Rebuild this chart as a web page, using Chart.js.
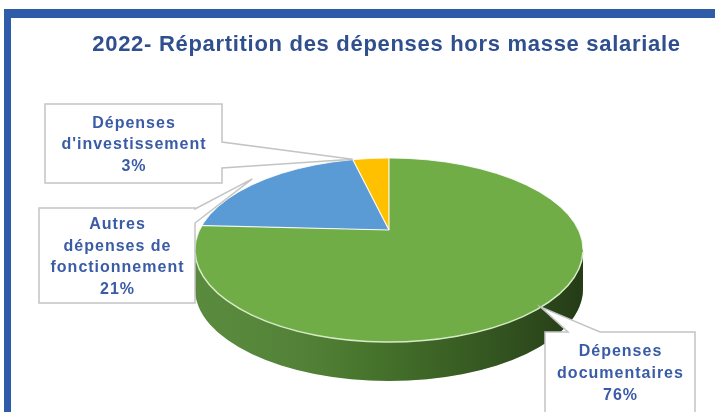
<!DOCTYPE html>
<html>
<head>
<meta charset="utf-8">
<script src="https://cdn.jsdelivr.net/npm/chart.js@4.4.1/dist/chart.umd.min.js"></script>
<style>
html, body { margin: 0; padding: 0; background: #ffffff; }
#wrap { position: relative; width: 715px; height: 412px; overflow: hidden; }
#chart { position: absolute; left: 0; top: 0; }
#frame { position: absolute; left: 4px; top: 9px; right: 0; bottom: 0;
         border-top: 9px solid #2f5ca9; border-left: 7px solid #2f5ca9; pointer-events: none; }
</style>
</head>
<body>
<div id="wrap">
  <canvas id="chart" width="715" height="412"></canvas>
  <div id="frame"></div>
</div>
<script>
// data
var categories = ['Dépenses documentaires', 'Autres dépenses de fonctionnement', "Dépenses d'investissement"];
var values = [76, 21, 3];
var labelLines = [
    ['Dépenses', 'documentaires'],
    ['Autres', 'dépenses de', 'fonctionnement'],
    ['Dépenses', "d'investissement"]
];
var titleText = '2022- Répartition des dépenses hors masse salariale';

// styles
var topColors = ['#70ad47', '#5b9bd5', '#ffc000'];
var sideColors = ['#508432', '#3d6f9e', '#b68900'];
var labelColor = '#3a5ba6';

// 3d look: face ellipse + apex of the wedges (perspective)
var PIE = { cx: 389, cy: 250, rx: 194, ry: 92, apexY: 230, depth: 39 };
var kUp = PIE.apexY - (PIE.cy - PIE.ry);
var kDown = PIE.cy + PIE.ry - PIE.apexY;

// callout boxes (layout), tip is taken on the slice at frac of its angle
var callouts = [
    { index: 0, box: { x: 545, y: 332, w: 150, h: 80 }, side: 'top', base: [568, 600], frac: 0.48, r: 1.04, open: true },
    { index: 1, box: { x: 39, y: 208, w: 156, h: 95 }, side: 'right', base: [209, 223], frac: 0.55, r: 1.0 },
    { index: 2, box: { x: 45, y: 104, w: 177, h: 79 }, side: 'right', base: [142, 168], frac: 0.0, r: 1.0 }
];

function drawWedge(ctx, el, lower, fill) {
    var k = lower ? kDown : kUp;
    ctx.save();
    ctx.translate(PIE.cx, PIE.apexY);
    ctx.scale(PIE.rx * 3 / el.outerRadius, k * 3 / el.outerRadius);
    ctx.translate(-el.x, -el.y);
    ctx.beginPath();
    ctx.moveTo(el.x, el.y);
    ctx.arc(el.x, el.y, el.outerRadius, el.startAngle, el.endAngle);
    ctx.closePath();
    ctx.restore();
    ctx.fillStyle = fill;
    ctx.fill();
}

function rimPoint(a, r) {
    var k = Math.sin(a) < 0 ? kUp : kDown;
    return [PIE.cx + Math.cos(a) * PIE.rx * r, PIE.apexY + Math.sin(a) * k * r];
}

function sideBand(ctx) {
    ctx.beginPath();
    ctx.ellipse(PIE.cx, PIE.cy, PIE.rx, PIE.ry, 0, 0, Math.PI);
    ctx.lineTo(PIE.cx - PIE.rx, PIE.cy + PIE.depth);
    ctx.ellipse(PIE.cx, PIE.cy + PIE.depth, PIE.rx, PIE.ry, 0, Math.PI, 0, true);
    ctx.closePath();
}

var pie3d = {
    id: 'pie3d',
    beforeDraw(chart) {
        chart.ctx.letterSpacing = '0.7px';
    },
    beforeDatasetsDraw(chart) {
        chart.ctx.letterSpacing = '0px';
    },
    beforeDatasetDraw(chart, args) {
        var ctx = chart.ctx;
        var arcs = chart.getDatasetMeta(args.index).data;
        var W = chart.width, H = chart.height;

        // side
        arcs.forEach(function (el, i) {
            ctx.save();
            sideBand(ctx);
            ctx.clip();
            drawWedge(ctx, el, true, sideColors[i]);
            ctx.restore();
        });
        ctx.save();
        sideBand(ctx);
        ctx.clip();
        var g = ctx.createLinearGradient(PIE.cx - PIE.rx, 0, PIE.cx + PIE.rx, 0);
        g.addColorStop(0, 'rgba(255,255,255,0.05)');
        g.addColorStop(0.45, 'rgba(0,0,0,0.12)');
        g.addColorStop(0.8, 'rgba(0,0,0,0.38)');
        g.addColorStop(1, 'rgba(0,0,0,0.55)');
        ctx.fillStyle = g;
        ctx.fillRect(0, 0, W, H);
        ctx.restore();

        // top face
        [false, true].forEach(function (lower) {
            arcs.forEach(function (el) {
                ctx.save();
                ctx.beginPath();
                if (lower) ctx.rect(0, PIE.apexY, W, H - PIE.apexY);
                else ctx.rect(0, 0, W, PIE.apexY);
                ctx.clip();
                ctx.beginPath();
                ctx.ellipse(PIE.cx, PIE.cy, PIE.rx, PIE.ry, 0, 0, Math.PI * 2);
                ctx.clip();
                drawWedge(ctx, el, lower, el.options.backgroundColor);
                ctx.restore();
            });
        });

        // slice edges
        ctx.save();
        ctx.beginPath();
        ctx.ellipse(PIE.cx, PIE.cy, PIE.rx, PIE.ry, 0, 0, Math.PI * 2);
        ctx.clip();
        ctx.strokeStyle = 'rgba(255,255,255,0.9)';
        ctx.lineWidth = 1.2;
        arcs.forEach(function (el) {
            var p = rimPoint(el.startAngle, 3);
            ctx.beginPath();
            ctx.moveTo(PIE.cx, PIE.apexY);
            ctx.lineTo(p[0], p[1]);
            ctx.stroke();
        });
        ctx.restore();

        // rim highlight
        ctx.save();
        ctx.beginPath();
        ctx.ellipse(PIE.cx, PIE.cy, PIE.rx, PIE.ry, 0, 0.02, Math.PI - 0.02);
        ctx.strokeStyle = '#d6eac6';
        ctx.lineWidth = 1.5;
        ctx.stroke();
        ctx.beginPath();
        ctx.ellipse(PIE.cx, PIE.cy, PIE.rx, PIE.ry, 0, Math.PI, Math.PI * 2);
        ctx.strokeStyle = 'rgba(255,255,255,0.8)';
        ctx.lineWidth = 1;
        ctx.stroke();
        ctx.restore();
        return false;
    },
    afterDraw(chart) {
        var ctx = chart.ctx;
        var arcs = chart.getDatasetMeta(0).data;
        callouts.forEach(function (c) {
            var el = arcs[c.index];
            var a = el.startAngle + c.frac * (el.endAngle - el.startAngle);
            var tip = rimPoint(a, c.r);
            var b = c.box;
            var pts;
            if (c.side === 'right') {
                pts = [[b.x, b.y + b.h], [b.x, b.y], [b.x + b.w, b.y], [b.x + b.w, c.base[0]], tip,
                       [b.x + b.w, c.base[1]], [b.x + b.w, b.y + b.h]];
            } else {
                pts = [[b.x, b.y + b.h], [b.x, b.y], [c.base[0], b.y], tip, [c.base[1], b.y],
                       [b.x + b.w, b.y], [b.x + b.w, b.y + b.h]];
            }
            ctx.save();
            ctx.beginPath();
            pts.forEach(function (p, j) { j ? ctx.lineTo(p[0], p[1]) : ctx.moveTo(p[0], p[1]); });
            ctx.closePath();
            ctx.fillStyle = '#ffffff';
            ctx.fill();
            ctx.beginPath();
            pts.forEach(function (p, j) { j ? ctx.lineTo(p[0], p[1]) : ctx.moveTo(p[0], p[1]); });
            if (!c.open) ctx.closePath();
            ctx.strokeStyle = '#c4c4c4';
            ctx.lineWidth = 1.5;
            ctx.stroke();

            var lines = labelLines[c.index].concat([values[c.index] + '%']);
            var lh = 21.7;
            var y0 = b.y + b.h / 2 - (lines.length - 1) * lh / 2 + 1.5;
            ctx.font = 'bold 16px "Liberation Sans", Arial, sans-serif';
            ctx.letterSpacing = '1px';
            ctx.fillStyle = labelColor;
            ctx.textAlign = 'center';
            ctx.textBaseline = 'middle';
            lines.forEach(function (t, j) {
                ctx.fillText(t, b.x + b.w / 2 + 0.5, y0 + j * lh);
            });
            ctx.restore();
        });
    }
};

var config = {
    type: 'pie',
    data: {
        labels: categories,
        datasets: [{
            data: values,
            backgroundColor: topColors,
            borderWidth: 0
        }]
    },
    options: {
        responsive: false,
        animation: false,
        devicePixelRatio: 1,
        layout: { padding: { left: 58, top: 0 } },
        plugins: {
            legend: { display: false },
            tooltip: { enabled: false },
            title: {
                display: true,
                text: titleText,
                color: '#2f4f8f',
                font: { family: '"Liberation Sans", Arial, sans-serif', size: 22, weight: 'bold' },
                padding: { top: 32, bottom: 10 }
            }
        }
    },
    plugins: [pie3d]
};

var chart = new Chart(document.getElementById('chart'), config);
</script>
</body>
</html>
